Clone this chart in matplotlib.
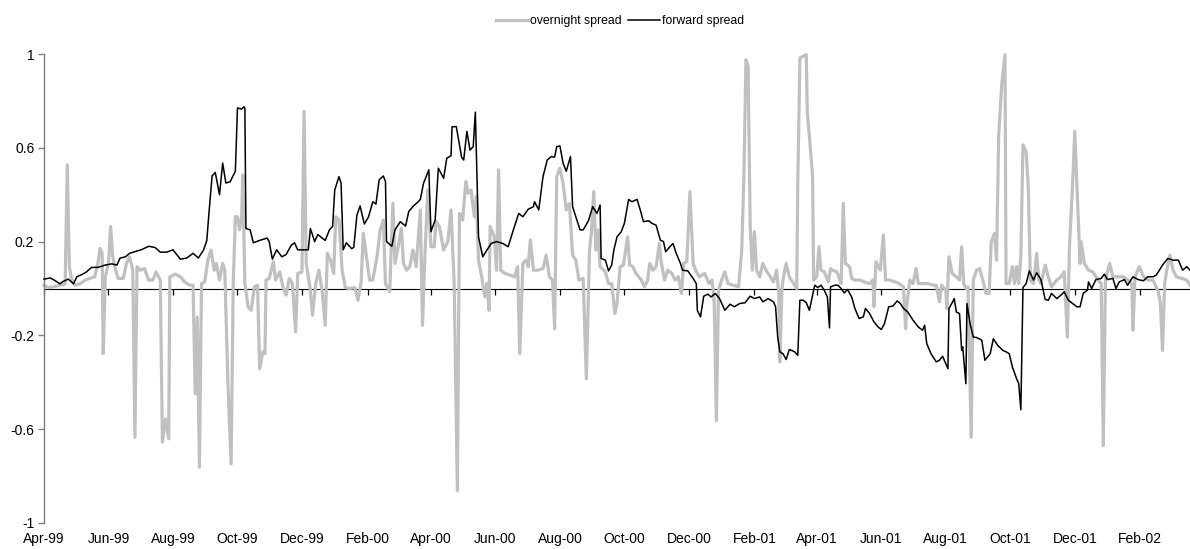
import numpy as np
import matplotlib
matplotlib.use("Agg")
import matplotlib.pyplot as plt
import matplotlib.dates as mdates

plt.rcParams['font.family'] = ['Liberation Sans', 'DejaVu Sans']

start_date = np.datetime64('1999-04-01')

# forward spread: (days since 1999-04-01, value)
fwd_days = [0,6,10,15,18,23,28,31,36,40,45,51,58,64,69,72,77,81,88,92,99,105,110,116,122,129,135,141,146,151,154,156,159,162,166,169,172,176,181,183,187,189,190,191,195,198,204,211,213,216,220,225,229,234,237,240,245,250,252,256,259,266,270,273,275,279,281,283,286,291,293,296,299,303,307,311,314,317,321,323,324,329,332,337,342,345,349,354,356,359,364,366,370,373,378,381,385,386,390,395,397,400,403,406,408,411,415,419,423,428,434,439,444,449,453,458,463,464,468,472,476,480,483,485,488,491,494,498,500,504,507,510,515,519,523,526,527,531,534,537,539,542,546,549,553,556,561,564,567,572,575,579,583,586,588,592,595,598,602,604,609,614,617,618,621,624,628,631,635,639,644,649,653,658,663,668,672,677,680,685,690,692,694,696,699,702,705,710,713,715,718,721,724,726,729,732,735,738,741,743,744,748,751,754,757,760,764,767,771,775,777,781,785,789,792,795,799,803,807,810,813,817,822,827,831,833,835,839,844,847,850,855,856,859,861,863,866,868,869,872,873,876,879,882,887,890,895,898,902,907,910,913,916,920,922,924,926,929,932,936,939,943,947,950,953,958,962,965,969,973,977,980,983,987,988,991,995,1000,1003,1006,1011,1014,1017,1022,1025,1030,1035,1040,1044,1049,1052,1055,1058,1063,1068,1073,1077,1081,1084]
fwd_vals = [0.04,0.045,0.035,0.02,0.03,0.04,0.02,0.05,0.06,0.07,0.09,0.09,0.10,0.105,0.10,0.13,0.135,0.15,0.16,0.165,0.18,0.175,0.155,0.155,0.165,0.125,0.13,0.15,0.13,0.165,0.205,0.32,0.48,0.495,0.40,0.535,0.45,0.455,0.50,0.77,0.765,0.775,0.77,0.256,0.25,0.195,0.205,0.215,0.20,0.125,0.165,0.135,0.145,0.185,0.195,0.165,0.165,0.165,0.256,0.20,0.23,0.205,0.25,0.265,0.42,0.477,0.45,0.165,0.195,0.17,0.175,0.313,0.352,0.275,0.306,0.37,0.36,0.463,0.48,0.456,0.20,0.18,0.25,0.285,0.266,0.328,0.35,0.37,0.38,0.449,0.506,0.242,0.292,0.513,0.47,0.556,0.566,0.69,0.69,0.56,0.548,0.67,0.59,0.605,0.752,0.22,0.135,0.164,0.192,0.20,0.192,0.178,0.25,0.32,0.306,0.338,0.349,0.37,0.335,0.477,0.548,0.563,0.56,0.605,0.608,0.534,0.50,0.563,0.349,0.292,0.25,0.25,0.289,0.349,0.32,0.356,0.128,0.121,0.075,0.10,0.164,0.22,0.242,0.278,0.38,0.37,0.38,0.335,0.285,0.289,0.278,0.27,0.206,0.20,0.157,0.178,0.192,0.15,0.107,0.078,0.075,0.043,0.021,-0.093,-0.121,-0.033,-0.024,-0.036,-0.021,-0.043,-0.093,-0.067,-0.078,-0.064,-0.061,-0.033,-0.043,-0.036,-0.057,-0.043,-0.057,-0.078,-0.207,-0.27,-0.278,-0.303,-0.26,-0.27,-0.285,-0.05,-0.05,-0.06,-0.093,-0.05,0.014,0.004,0.014,-0.007,-0.036,-0.168,0.007,0.014,0.014,0.0,-0.019,-0.004,-0.036,-0.085,-0.128,-0.121,-0.085,-0.107,-0.142,-0.164,-0.175,-0.15,-0.078,-0.075,-0.053,-0.064,-0.085,-0.10,-0.135,-0.164,-0.178,-0.157,-0.235,-0.278,-0.313,-0.306,-0.289,-0.342,-0.085,-0.061,-0.043,-0.10,-0.107,-0.264,-0.249,-0.406,-0.064,-0.15,-0.207,-0.209,-0.22,-0.306,-0.278,-0.214,-0.242,-0.264,-0.27,-0.278,-0.335,-0.385,-0.406,-0.517,0.004,0.021,0.075,0.036,0.067,0.038,-0.047,-0.05,-0.021,-0.043,-0.028,-0.014,-0.05,-0.064,-0.078,-0.078,-0.021,-0.007,0.028,0.0,0.038,0.043,0.061,0.038,0.043,0.0,0.028,0.038,0.014,0.05,0.038,0.033,0.05,0.05,0.057,0.078,0.10,0.128,0.121,0.121,0.078,0.093,0.078]

# overnight spread: (days since 1999-04-01, value)
ovn_days = [0,4,9,15,20,22,24,26,29,34,39,43,48,51,53,55,56,58,61,63,65,67,70,75,78,81,84,86,88,91,95,99,103,106,110,112,115,118,119,124,129,133,138,141,143,145,147,149,152,155,158,161,163,166,169,171,174,177,179,181,183,185,187,188,190,193,196,199,202,204,207,209,210,213,217,219,223,226,229,232,235,238,240,244,246,248,252,254,257,260,263,266,268,271,274,276,279,282,285,289,294,297,300,302,305,308,311,315,318,321,323,327,330,332,335,338,340,343,346,349,352,356,358,360,363,366,369,371,374,378,382,385,388,391,393,396,399,401,404,407,409,411,414,417,419,421,422,426,428,430,432,436,441,445,448,450,453,456,458,460,463,467,472,475,478,481,483,485,488,491,494,497,500,503,506,510,513,516,518,520,522,524,526,531,534,537,540,542,545,548,552,554,557,560,565,568,571,573,576,579,582,584,587,590,594,597,600,603,605,608,611,614,617,620,625,629,632,634,636,638,641,644,647,652,657,660,662,664,666,668,670,672,674,677,680,683,687,690,693,695,696,698,699,702,705,709,712,713,715,718,721,722,724,727,728,731,733,735,738,742,744,746,750,753,754,756,758,762,764,767,772,776,781,784,785,787,791,794,796,800,805,809,813,815,816,819,822,825,827,831,836,841,844,847,849,853,854,856,859,863,866,868,870,872,874,877,879,882,885,888,891,894,896,899,901,903,906,909,910,913,916,918,920,922,924,926,929,931,933,936,939,941,943,947,950,953,958,962,965,968,970,973,975,977,980,981,984,988,992,997,1000,1002,1004,1008,1011,1016,1021,1025,1029,1030,1032,1036,1040,1044,1049,1054,1056,1058,1060,1062,1065,1068,1071,1076,1081,1084]
ovn_vals = [0.014,0.004,0.007,0.014,0.02,0.527,0.093,0.043,0.014,0.02,0.036,0.043,0.05,0.107,0.171,0.15,-0.278,0.05,0.107,0.264,0.135,0.093,0.043,0.043,0.107,0.135,0.078,-0.634,0.093,0.078,0.085,0.036,0.036,0.071,0.036,-0.655,-0.556,-0.641,0.05,0.061,0.05,0.028,0.014,0.014,-0.449,-0.121,-0.762,0.021,0.028,0.121,0.164,0.078,0.107,0.036,0.107,0.078,-0.406,-0.748,0.021,0.306,0.306,0.25,0.306,0.484,0.021,-0.078,-0.093,0.007,0.014,-0.342,-0.27,-0.278,0.036,0.043,0.114,0.036,0.071,0.007,-0.028,0.043,0.021,-0.185,0.064,0.071,0.755,0.107,-0.007,-0.114,0.021,0.078,-0.007,-0.157,0.15,0.121,0.064,0.306,0.292,0.078,0.004,0.0,0.004,-0.05,0.028,0.235,0.135,0.036,0.036,0.135,0.25,0.292,0.021,-0.014,0.363,0.107,0.178,0.256,0.107,0.078,0.093,0.164,0.093,0.335,-0.157,0.107,0.42,0.178,0.178,0.285,0.264,0.164,0.20,0.335,0.021,-0.862,0.32,0.292,0.456,0.406,0.42,0.306,0.392,0.121,0.05,-0.036,0.021,-0.093,0.264,0.22,0.078,0.506,0.078,0.064,0.057,0.05,0.093,-0.278,0.107,0.121,0.093,0.207,0.078,0.078,0.085,0.142,0.05,0.036,-0.171,0.477,0.513,0.449,0.335,0.363,0.142,0.121,0.036,0.043,-0.385,0.164,0.25,0.413,0.164,0.25,0.093,0.071,0.021,0.021,-0.107,-0.064,0.093,0.10,0.22,0.10,0.093,0.064,0.036,0.007,0.036,0.107,0.078,0.093,0.192,0.107,0.036,0.078,0.064,0.036,0.05,-0.021,0.107,0.114,0.413,0.107,0.071,0.05,0.064,0.021,0.036,-0.064,-0.563,-0.007,0.036,0.071,0.021,0.014,0.007,0.164,0.477,0.976,0.947,0.264,0.078,0.242,0.078,0.05,0.107,0.078,0.05,0.028,0.078,-0.021,-0.313,-0.007,0.036,0.107,0.05,0.021,0.0,0.449,0.983,0.99,0.997,0.748,0.648,0.477,0.036,0.05,0.178,0.078,0.071,0.028,0.085,0.078,0.071,0.036,0.021,0.363,0.107,0.093,0.043,0.036,0.036,0.028,0.021,0.036,-0.078,0.114,0.078,0.228,0.036,0.036,0.028,0.021,0.007,-0.171,-0.078,0.036,0.021,0.085,0.021,0.021,0.021,0.014,0.014,-0.057,0.014,-0.007,-0.085,0.135,0.064,0.05,0.036,0.178,0.021,0.0,0.007,-0.634,0.036,0.078,0.085,0.036,-0.021,-0.021,0.2,0.235,0.121,0.648,0.876,0.997,0.021,0.021,0.093,0.021,0.093,0.021,0.135,0.613,0.584,0.434,0.036,0.021,0.15,0.036,0.021,0.10,0.05,0.007,0.036,0.05,0.071,-0.207,0.178,0.449,0.67,0.449,0.107,0.20,0.107,0.078,0.071,0.036,0.021,-0.67,0.036,0.107,0.05,0.05,0.05,0.036,0.021,-0.178,0.05,0.093,0.05,0.036,0.036,-0.014,-0.064,-0.264,0.021,0.078,0.142,0.078,0.05,0.043,0.036,0.014]

y_ticks = [-1, -0.6, -0.2, 0.2, 0.6, 1]
y_tick_labels = ['-1', '-0.6', '-0.2', '0.2', '0.6', '1']
series_names = ['overnight spread', 'forward spread']

fwd_x = start_date + np.array(fwd_days).astype('timedelta64[D]')
ovn_x = start_date + np.array(ovn_days).astype('timedelta64[D]')

fig = plt.figure(figsize=(11.9, 5.49), dpi=100)
ax = fig.add_axes([44/1190, 26/549, 1 - 44/1190, 469/549])

l1, = ax.plot(ovn_x, ovn_vals, color='#c0c0c0', lw=2.3, solid_joinstyle='round', clip_on=False, zorder=2)
l2, = ax.plot(fwd_x, fwd_vals, color='#000000', lw=1.1, zorder=3, clip_on=False)

ax.set_ylim(-1, 1)
ax.set_xlim(start_date, start_date + np.timedelta64(1084, 'D'))
ax.set_yticks(y_ticks)
ax.set_yticklabels(y_tick_labels)

for s in ['top', 'right', 'bottom']:
    ax.spines[s].set_visible(False)
ax.spines['left'].set_color('#7f7f7f')
ax.spines['left'].set_linewidth(1.0)
ax.tick_params(axis='y', direction='out', length=4, width=1.0, color='#7f7f7f', labelsize=10, pad=3)

loc = mdates.MonthLocator(bymonth=[2, 4, 6, 8, 10, 12])
ax.xaxis.set_major_locator(loc)
ax.xaxis.set_major_formatter(mdates.DateFormatter('%b-%y'))
ax.tick_params(axis='x', length=0, labelsize=10, pad=6.5)

# zero line with small downward tick marks
sec = ax.secondary_xaxis(0.5)
sec.set_alignment('bottom')
sec.xaxis.set_major_locator(mdates.MonthLocator(bymonth=[2, 4, 6, 8, 10, 12]))
sec.tick_params(axis='x', which='both', bottom=True, top=False, direction='out', length=4,
                width=0.9, color='#000000', labelbottom=False, labeltop=False)
for s in sec.spines.values():
    s.set_linewidth(0.8)
    s.set_color('#000000')
sec.spines['top'].set_visible(False)

fig.legend([l1, l2], series_names, loc='center', bbox_to_anchor=(620/1190, 1 - 21/549),
           ncol=2, frameon=False, fontsize=8.8, handlelength=2.6, handletextpad=0.2,
           columnspacing=0.5)

fig.savefig('out.png', dpi=100)
